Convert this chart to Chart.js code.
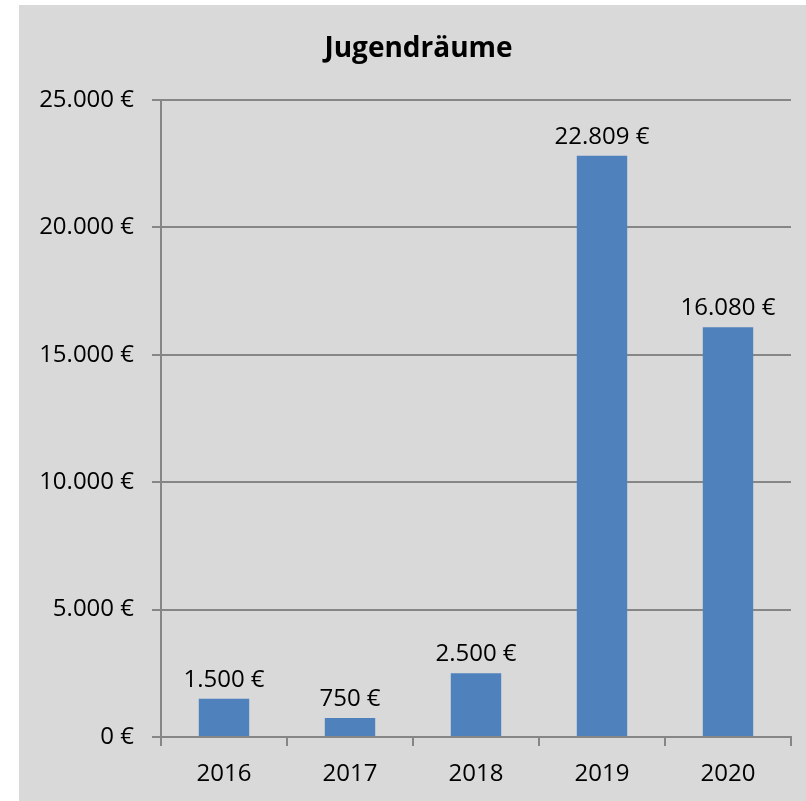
<!DOCTYPE html>
<html>
<head>
<meta charset="utf-8">
<script src="https://cdn.jsdelivr.net/npm/chart.js@4"></script>
<style>
html,body{margin:0;padding:0;background:#ffffff;}
#wrap{position:absolute;left:19px;top:5px;width:787px;height:796px;background:#d9d9d9;}
</style>
</head>
<body>
<div id="wrap"><canvas id="c"></canvas></div>
<script>
const categories = ["2016", "2017", "2018", "2019", "2020"];
const values = [1500, 750, 2500, 22809, 16080];
const yTicks = [0, 5000, 10000, 15000, 20000, 25000];
const chartTitle = "Jugendräume";

function fmtEuro(v){
  return String(Math.round(v)).replace(/\B(?=(\d{3})+(?!\d))/g, ".") + " €";
}

const FONT = "'Open Sans', 'Liberation Sans', sans-serif";

const dataLabels = {
  id: 'dataLabels',
  afterDatasetsDraw(chart){
    const ctx = chart.ctx;
    const meta = chart.getDatasetMeta(0);
    ctx.save();
    ctx.font = "24px " + FONT;
    ctx.fillStyle = "#000000";
    ctx.textAlign = "center";
    ctx.textBaseline = "bottom";
    meta.data.forEach((bar, i) => {
      ctx.fillText(fmtEuro(chart.data.datasets[0].data[i]), bar.x, bar.y - 7);
    });
    ctx.restore();
  }
};

const titlePlugin = {
  id: 'centeredTitle',
  afterDraw(chart){
    const ctx = chart.ctx;
    ctx.save();
    ctx.font = "bold 28px " + FONT;
    ctx.fillStyle = "#000000";
    ctx.textAlign = "center";
    ctx.textBaseline = "middle";
    ctx.fillText(chartTitle, chart.width / 2 + 6, 44);
    ctx.restore();
  }
};

new Chart(document.getElementById('c'), {
  type: 'bar',
  data: {
    labels: categories,
    datasets: [{
      data: values,
      backgroundColor: '#4f81bd',
      borderWidth: 0,
      barPercentage: 0.4,
      categoryPercentage: 1.0
    }]
  },
  options: {
    responsive: true,
    maintainAspectRatio: false,
    animation: false,
    layout: { padding: { left: 0, right: 15, top: 95, bottom: 0 } },
    plugins: {
      legend: { display: false },
      tooltip: { enabled: false },
      title: { display: false }
    },
    scales: {
      x: {
        grid: {
          offset: true,
          drawOnChartArea: false,
          drawTicks: true,
          tickLength: 9,
          color: '#868686',
          lineWidth: 2
        },
        border: { display: true, color: '#868686', width: 2 },
        ticks: {
          color: '#000000',
          font: { family: FONT, size: 24 },
          padding: 14,
          maxRotation: 0
        },
        afterFit(scale){ scale.height = 64; }
      },
      y: {
        min: 0,
        max: 25000,
        afterBuildTicks(scale){ scale.ticks = yTicks.map(v => ({ value: v })); },
        grid: {
          color: '#868686',
          lineWidth: 2,
          tickLength: 9,
          drawTicks: true
        },
        border: { display: true, color: '#868686', width: 2 },
        ticks: {
          color: '#000000',
          font: { family: FONT, size: 24 },
          padding: 18,
          callback: (v) => fmtEuro(v)
        },
        afterFit(scale){ scale.width = 142; }
      }
    }
  },
  plugins: [dataLabels, titlePlugin]
});
</script>
</body>
</html>
